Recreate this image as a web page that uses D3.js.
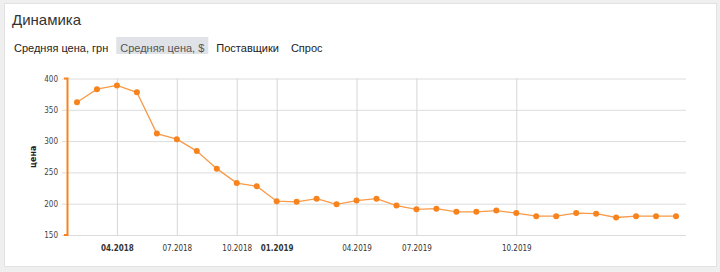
<!DOCTYPE html>
<html>
<head>
<meta charset="utf-8">
<script src="https://cdn.jsdelivr.net/npm/d3@7"></script>
<style>
  body { margin: 0; background: #efefef; }
  #chart { width: 720px; height: 272px; }
</style>
</head>
<body>
<div id="chart"></div>
<script>
// data (avg price, $)
const values = [362, 383, 389, 378, 312, 303, 284, 256, 233, 228,
    204, 203, 208, 199, 205, 208, 197, 191, 192, 187,
    187, 189, 185, 180, 180, 185, 184, 178, 180, 180, 180];
const tickIndex = [2, 5, 8, 10, 14, 17, 22];
const tickLabels = ["04.2018", "07.2018", "10.2018", "01.2019", "04.2019", "07.2019", "10.2019"];
const boldTicks = ["04.2018", "01.2019"];
const yTicks = [150, 200, 250, 300, 350, 400];
const tabs = ["Средняя цена, грн", "Средняя цена, $", "Поставщики", "Спрос"];
const activeTab = 1;

const W = 720, H = 272;
const orange = "#f7831e";

const svg = d3.select("#chart").append("svg")
    .attr("width", W)
    .attr("height", H);

// card
svg.append("rect")
    .attr("x", 4.5).attr("y", 3.5)
    .attr("width", 712).attr("height", 263)
    .attr("fill", "#fff")
    .attr("stroke", "#e2e2e2");

svg.append("text")
    .attr("x", 12).attr("y", 25)
    .style("font", "15px 'Liberation Sans', Arial, sans-serif")
    .attr("fill", "#333")
    .text("Динамика");

// tabs
const tabG = svg.append("g").attr("transform", "translate(14,52)");
let tx = 0;
tabs.forEach((t, i) => {
    const txt = tabG.append("text")
        .attr("x", tx).attr("y", 0)
        .style("font", "11px 'Liberation Sans', Arial, sans-serif")
        .attr("fill", i === activeTab ? "#555" : "#222")
        .text(t);
    const w = txt.node().getComputedTextLength();
    if (i === activeTab) {
        tabG.insert("rect", "text")
            .attr("x", tx - 4).attr("y", -15)
            .attr("width", w + 8).attr("height", 17)
            .attr("fill", "#dfe3e8");
    }
    tx += w + 12;
});

// scales
const x = d3.scaleLinear().domain([-0.5, values.length - 0.5]).range([67, 686]);
const y = d3.scaleLinear().domain([150, 400]).range([235, 78.5]);

// horizontal grid + left ticks
svg.append("g")
    .attr("transform", "translate(67,0)")
    .call(d3.axisLeft(y).tickValues(yTicks).tickSize(-(686 - 67)).tickPadding(9))
    .call(g => g.select(".domain").remove())
    .call(g => g.selectAll(".tick line").attr("stroke", "#dcdcdc").attr("x1", -5))
    .call(g => g.selectAll(".tick text")
        .style("font", "8px 'DejaVu Sans Condensed', 'DejaVu Sans', sans-serif")
        .attr("fill", "#444"));

// vertical grid + x labels
svg.append("g")
    .attr("transform", "translate(0,235)")
    .call(d3.axisBottom(x).tickValues(tickIndex)
        .tickFormat((d, i) => tickLabels[i])
        .tickSize(-(235 - 78.5)).tickPadding(10))
    .call(g => g.select(".domain").remove())
    .call(g => g.selectAll(".tick line").attr("stroke", "#d6d6d6"))
    .call(g => g.selectAll(".tick text")
        .style("font", "8px 'DejaVu Sans Condensed', 'DejaVu Sans', sans-serif")
        .style("font-weight", (d, i) => boldTicks.includes(tickLabels[i]) ? "bold" : "normal")
        .attr("fill", "#333"));

// orange y axis line
svg.append("path")
    .attr("d", `M64,${y(400)}H67.5V${y(150)}H64`)
    .attr("fill", "none")
    .attr("stroke", orange)
    .attr("stroke-width", 2);

// y title
svg.append("text")
    .attr("transform", `translate(36,${(y(150) + y(400)) / 2}) rotate(-90)`)
    .attr("text-anchor", "middle")
    .style("font", "bold 8px 'DejaVu Sans', sans-serif")
    .attr("fill", "#222")
    .text("цена");

// line + points
const line = d3.line()
    .x((d, i) => x(i))
    .y(d => y(d));

svg.append("path")
    .datum(values)
    .attr("fill", "none")
    .attr("stroke", "#f89a48")
    .attr("stroke-width", 1.3)
    .attr("d", line);

svg.selectAll("circle.pt")
    .data(values)
    .enter().append("circle")
    .attr("class", "pt")
    .attr("cx", (d, i) => x(i))
    .attr("cy", d => y(d))
    .attr("r", 3)
    .attr("fill", orange);
</script>
</body>
</html>
